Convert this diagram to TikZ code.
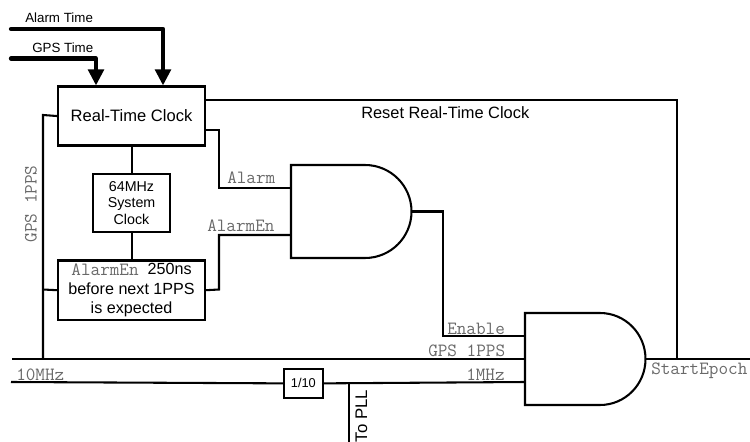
\documentclass[tikz,border=0pt]{standalone}
\usepackage{fontspec}
\setmainfont{Liberation Sans}
\usetikzlibrary{arrows.meta}
\definecolor{siggray}{RGB}{105,105,105}
\newcommand{\sigfnt}{\ttfamily\fontsize{14}{15}\selectfont}
\tikzset{
  px/.style={x=0.75pt,y=-0.75pt},
  wire/.style={line width=1.55pt,line join=miter},
  bus/.style={line width=3.2pt,line cap=round,line join=round},
  busarrow/.style={bus,-{Triangle[length=12pt,width=11.5pt]}},
  blockbox/.style={draw,line width=1.55pt,fill=white,inner sep=0pt,align=center,anchor=north west,font=\fontsize{11.5}{14}\selectfont},
  lab/.style={inner sep=0pt,font=\fontsize{10}{12}\selectfont},
  sig/.style={inner sep=0pt,text=siggray,font=\sigfnt},
}
\begin{document}
\begin{tikzpicture}[px]
\useasboundingbox (0,0) rectangle (750,442);
% coordinates
\coordinate (a1) at (11,29);
\coordinate (a2) at (11,58.5);
\coordinate (leftbus) at (12,359);
\coordinate (rightbus) at (750,359);
\coordinate (clkin) at (11,382);
\coordinate (pllend) at (349,442);
\coordinate (pllt) at (349,382);
% blocks
\node[blockbox,minimum width=110.25pt,minimum height=44.25pt,font=\fontsize{12.4}{14}\selectfont] (rtc) at (57,85.5) {Real-Time Clock};
\node[blockbox,minimum width=57.75pt,minimum height=43.5pt,font=\fontsize{10.7}{12.4}\selectfont] (sys) at (92,173) {64MHz\\System\\Clock};
\node[blockbox,minimum width=110.25pt,minimum height=44.5pt,font=\fontsize{12.1}{14.8}\selectfont] (en) at (57,259.5) {\raisebox{-1pt}{\sigfnt\color{siggray}AlarmEn}\ \ 250ns\\before next 1PPS\\is expected};
\node[blockbox,minimum width=29pt,minimum height=21.5pt,font=\fontsize{9.6}{11}\selectfont] (div) at (283,368) {1/10};
% gates
\draw[wire] (291,165) coordinate (g1t) -- (365,165) arc[start angle=-90,end angle=90,x radius=46.5,y radius=46.5] -- (291,258) coordinate (g1b) -- cycle;
\coordinate (g1o) at (411.5,211.5);
\draw[wire] (525,313) coordinate (g2t) -- (600,313) arc[start angle=-90,end angle=90,x radius=45.5,y radius=46] -- (525,405) coordinate (g2b) -- cycle;
\coordinate (g2o) at (645.5,359);
% thick inputs
\draw[busarrow] (a1) -| (rtc.north west -| 163,0);
\draw[busarrow] (a2) -| (rtc.north west -| 96,0);
% wires
\coordinate (rtcr1) at (rtc.north east |- 0,100);
\coordinate (rtcr2) at (rtc.north east |- 0,130);
\coordinate (rtcl) at (rtc.west);
\draw[wire] (rtcr1) -| (677,359);
\draw[wire] (rtcr2) -- (219,130) |- (291,188);
\draw[wire] (en.east) -- (219,289.5) |- (291,235);
\draw[wire] (rtc.south -| sys.north) -- (sys.north);
\draw[wire] (sys.south) -- (en.north -| sys.south);
\draw[wire] (rtcl) -- (43,115) -- (43,359);
\draw[wire] (en.west) -- (43,289.5);
\draw[wire] (leftbus) -- (525,359);
\draw[wire] (g2o) -- (rightbus);
\draw[wire] (clkin) -- (div.west);
\draw[wire] (div.east) -- (525,382);
\draw[wire] (pllt) -- (pllend);
\draw[wire] (g1o) -- (443,211.5) |- (525,336);
% labels
\node[lab,anchor=west] (lalarm) at (25,18) {Alarm Time};
\node[lab,anchor=west] (lgps) at (32,48) {GPS Time};
\node[lab,anchor=west,font=\fontsize{12.3}{14}\selectfont] (lreset) at (361,113) {Reset Real-Time Clock};
\node[lab,rotate=90,anchor=center,font=\fontsize{12.6}{15}\selectfont] (lpll) at (361.5,416) {To PLL};
\node[sig,anchor=west] (s1) at (227,178) {Alarm};
\node[sig,anchor=west] (s2) at (207,226) {AlarmEn};
\node[sig,anchor=west] (s3) at (447,329) {Enable};
\node[sig,anchor=west] (s4) at (428,351) {GPS 1PPS};
\node[sig,anchor=west] (s5) at (466,375) {1MHz};
\node[sig,anchor=west] (s6) at (651,371) {StartEpoch};
\node[sig,anchor=west] (s7) at (16,375) {10MHz};
\node[sig,rotate=90,anchor=center] (s8) at (31,204) {GPS 1PPS};
\end{tikzpicture}
\end{document}
